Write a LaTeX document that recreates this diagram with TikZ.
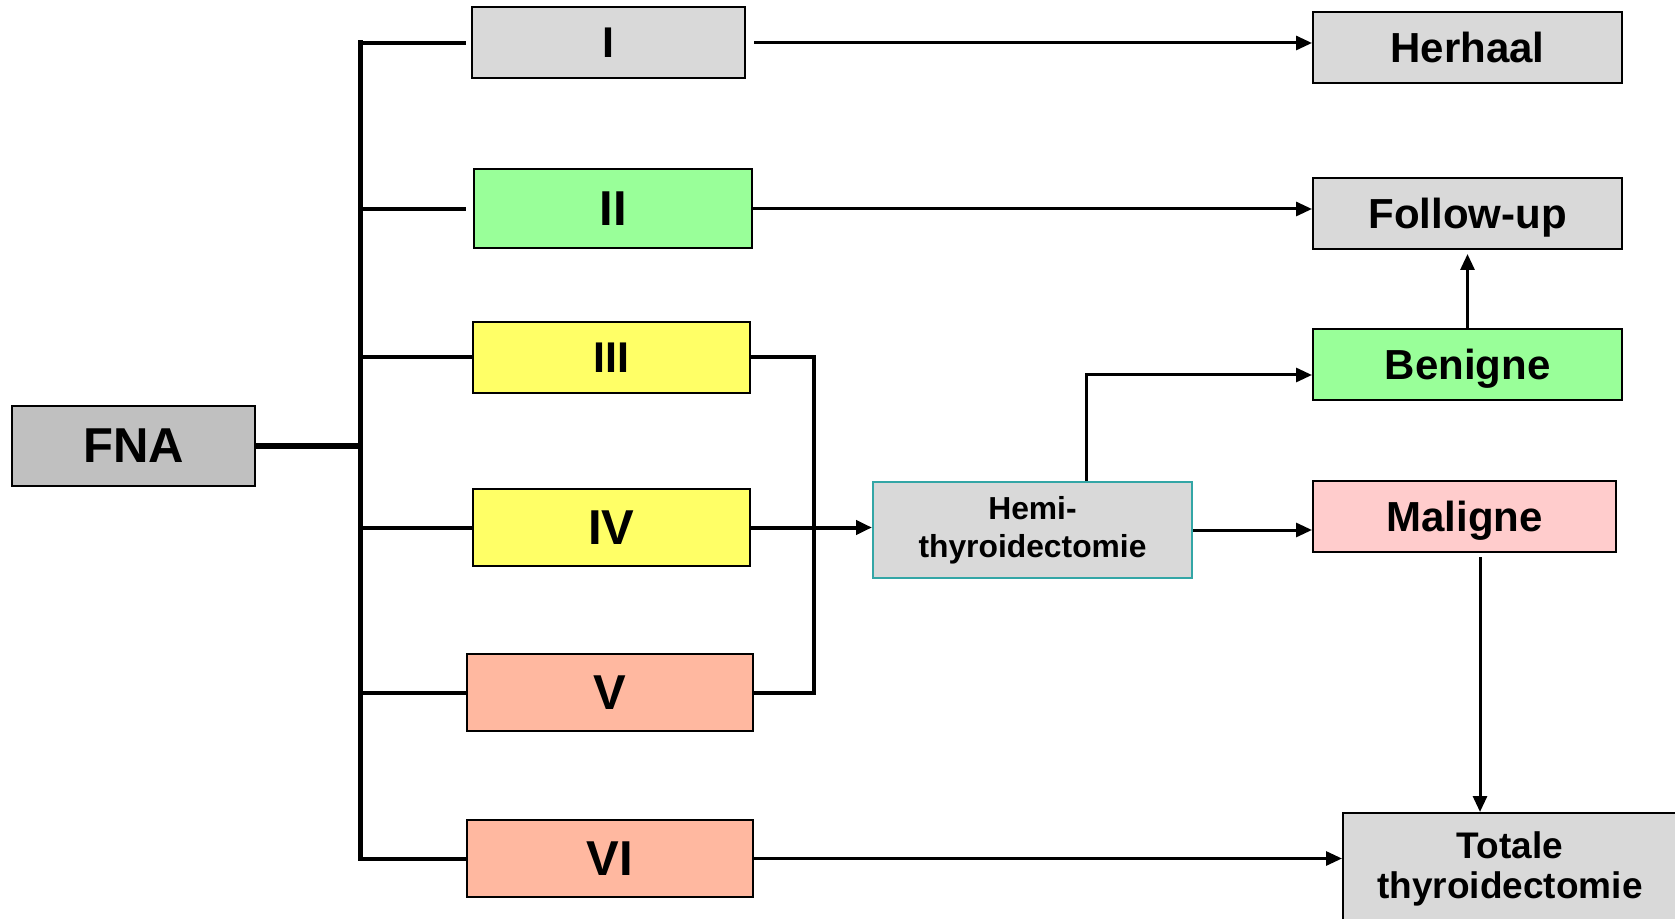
\documentclass[tikz,border=0pt]{standalone}
\usepackage{fontspec}
\setmainfont{Liberation Sans}
\usepackage{tikz}
\usetikzlibrary{calc,arrows.meta}

\definecolor{boxgray}{HTML}{D9D9D9}
\definecolor{fnagray}{HTML}{C0C0C0}
\definecolor{okgreen}{HTML}{99FF99}
\definecolor{paleyellow}{HTML}{FFFF66}
\definecolor{salmon}{HTML}{FFB8A0}
\definecolor{palepink}{HTML}{FFCCCC}
\definecolor{tealedge}{HTML}{33A6A6}

\begin{document}
\begin{tikzpicture}[x=0.5pt, y=-0.5pt,
  box/.style={draw=black, line width=1pt, inner sep=0pt, align=center},
  grade/.style={box, minimum height=37pt, font=\bfseries\fontsize{24.5}{28}\selectfont},
  outcome/.style={box, fill=boxgray, minimum width=154.5pt, minimum height=35.5pt,
    text depth=0pt, font=\bfseries\fontsize{21}{24}\selectfont},
  branch/.style={line width=2pt},
  arrow/.style={line width=1.5pt, -{Triangle[length=8pt,width=7pt]}}]
  \useasboundingbox[fill=white] (0,0) rectangle (1675,919);

  % FNA and the cytology classes
  \node[box, fill=fnagray, minimum width=121.5pt, minimum height=40pt,
    font=\bfseries\fontsize{24.5}{28}\selectfont] (fna) at (133.5,446) {FNA};
  \node[grade, fill=boxgray, minimum width=136.5pt, minimum height=35.5pt,
    font=\bfseries\fontsize{21.5}{24}\selectfont] (I) at (608.5,43) {I};
  \node[grade, fill=okgreen, minimum width=139pt, minimum height=39.5pt] (II) at (613,209) {II};
  \node[grade, fill=paleyellow, minimum width=138.5pt, minimum height=35.5pt,
    font=\bfseries\fontsize{21.5}{24}\selectfont] (III) at (611.5,357.5) {III};
  \node[grade, fill=paleyellow, minimum width=138.5pt, minimum height=38.5pt] (IV) at (611.5,527.5) {IV};
  \node[grade, fill=salmon, minimum width=143pt, minimum height=38.5pt] (V) at (610,692.5) {V};
  \node[grade, fill=salmon, minimum width=143pt, minimum height=38.5pt] (VI) at (610,858.5) {VI};

  % Operation and outcomes
  \node[box, draw=tealedge, fill=boxgray, minimum width=159.5pt, minimum height=48pt,
    font=\bfseries\fontsize{15.9}{19}\selectfont] (hemi) at (1032.5,530) {Hemi-\\thyroidectomie};
  \node[outcome] (herhaal) at (1467.5,47.5) {Herhaal};
  \node[outcome] (followup) at (1467.5,213.5) {Follow-up};
  \node[outcome, fill=okgreen] (benigne) at (1467.5,364.5) {Benigne};
  \node[outcome, fill=palepink, minimum width=151.5pt] (maligne) at (1464.5,516.5) {Maligne};
  \node[box, fill=boxgray, minimum width=167pt, minimum height=56pt,
    font=\bfseries\fontsize{18.5}{20}\selectfont] (totale) at (1510,869) {Totale\\thyroidectomie};

  % Bracket from FNA to the classes
  \coordinate (spine) at (360,0);
  \draw[line width=3.2pt] (fna.east) -- (fna.east -| spine);
  \draw[line width=2.5pt, line cap=rect] (spine |- I.west) -- (spine |- VI.west);
  \draw[branch, shorten >=2.5pt] (spine |- I.west) -- (I.west);
  \draw[branch, shorten >=3.5pt] (spine |- II.west) -- (II.west);
  \foreach \g in {III,IV,V,VI}
    \draw[branch] (spine |- \g.west) -- (\g.west);

  % III, IV and V join towards the hemithyroidectomy
  \coordinate (join) at (814,0);
  \draw[branch] (III.east) -- (III.east -| join) -- (V.east -| join) -- (V.east);
  \draw[arrow, line width=2pt] (IV.east) -- (IV.east -| hemi.west);

  % Arrows to the outcomes
  \draw[arrow, shorten <=4pt] (I.east) -- (I.east -| herhaal.west);
  \draw[arrow] (II.east) -- (II.east -| followup.west);
  \draw[arrow] ($(hemi.north)+(53.5,0)$) |- ($(benigne.west)+(0,10.5)$);
  \draw[arrow, shorten >=2pt] (benigne.north) -- (followup.south);
  \draw[arrow] (hemi.east) -- (hemi.east -| maligne.west);
  \coordinate (drop) at ($(maligne.south)+(15.5,4)$);
  \draw[arrow] (drop) -- (drop |- totale.north);
  \draw[arrow] (VI.east) -- (VI.east -| totale.west);
\end{tikzpicture}
\end{document}
